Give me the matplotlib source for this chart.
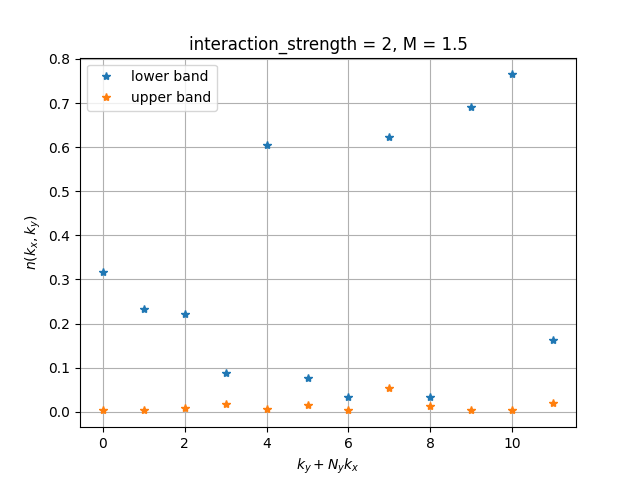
import matplotlib
matplotlib.use("Agg")
import matplotlib.pyplot as plt
import numpy as np

k_index = list(range(12))
lower_band = [0.317, 0.233, 0.222, 0.087, 0.604, 0.076, 0.034, 0.623, 0.033, 0.691, 0.765, 0.163]
upper_band = [0.003, 0.003, 0.008, 0.018, 0.006, 0.016, 0.003, 0.054, 0.013, 0.003, 0.003, 0.020]

fig, ax = plt.subplots(figsize=(6.4, 4.8), dpi=100)
ax.plot(k_index, lower_band, '*', label='lower band')
ax.plot(k_index, upper_band, '*', label='upper band')
ax.set_xlabel(r'$k_y + N_y k_x$')
ax.set_ylabel(r'$n(k_x, k_y)$')
ax.set_title('interaction_strength = 2, M = 1.5')
ax.grid(True)
ax.legend(loc='upper left')
fig.savefig('out.png')
